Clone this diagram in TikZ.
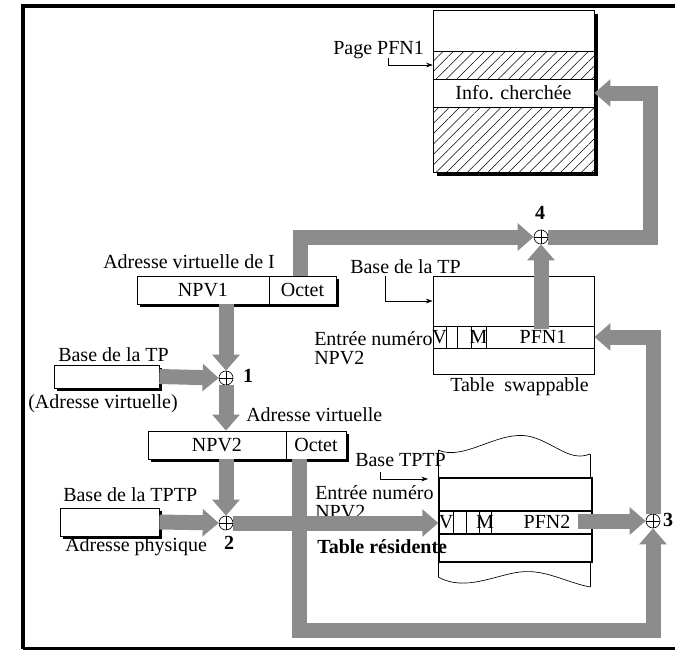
\documentclass[tikz,border=0pt]{standalone}
\usepackage{fontspec}
\setmainfont{Liberation Serif}
\usetikzlibrary{arrows.meta,fit,patterns.meta}
\definecolor{arrgray}{RGB}{140,140,140}
\begin{document}
\begin{tikzpicture}[x=0.75pt,y=-0.75pt,
  every node/.style={font=\fontsize{15}{17}\selectfont, inner sep=0pt},
  box/.style={draw=black, line width=0.6pt, fill=white, inner sep=0pt},
  hatch/.style={preaction={fill=white}, pattern={Lines[angle=45,distance=5.5pt,line width=0.4pt]}},
  garrow/.style={draw=arrgray, line width=11.25pt, line join=miter, -{Triangle[length=12pt,width=20pt]}},
  tarrow/.style={draw=black, line width=0.5pt, -{Stealth[length=5pt,width=3.5pt]}},
  oplus/.style={circle, draw=black, fill=white, line width=0.5pt, minimum size=10.5pt,
    path picture={\draw[line width=0.5pt] (path picture bounding box.north) -- (path picture bounding box.south)
      (path picture bounding box.west) -- (path picture bounding box.east);}},
  lbl/.style={font=\fontsize{15}{17}\selectfont\bfseries},
  cell/.style={draw=black, line width=0.5pt},
]
\useasboundingbox (0,0) rectangle (675,650);
% frame
\draw[line width=3pt] (23,649) -- (23,6) -- (700,6);
\draw[line width=3pt] (23,649) -- (700,649);

% ---------- page ----------
\fill (437,14) rectangle (598,176);
\node[fit={(433,10) (594,51)}, box] (ptop) {};
\node[fit={(433,51) (594,79)}, box, hatch] (hatch1) {};
\node[fit={(433,79) (594,107)}, box] (info) {};
\node[fit={(433,107) (594,172)}, box, hatch] (hatch2) {};
\node (infot) at (info.center) {Info. cherchée};
\node[anchor=west] (pagelbl) at (333,50) {Page PFN1};
\coordinate (pp) at (388,58);
\draw[tarrow] (pp) |- (hatch1.west);

% ---------- adresse virtuelle de I ----------
\node[anchor=west] (avi) at (103,262) {Adresse virtuelle de I};
\fill (140,279) rectangle (339,307);
\node[fit={(137,276) (269,304)}, box] (npv1) {};
\node[fit={(269,276) (336,304)}, box] (oct1) {};
\node (npv1t) at (npv1.center) {NPV1};
\node (oct1t) at (oct1.center) {Octet};

% ---------- base de la TP (left) ----------
\node[anchor=west] (btp) at (58,355) {Base de la TP};
\fill (57,368) rectangle (162,391);
\node[fit={(54,365) (159,388)}, box] (tpbox) {};
\node[anchor=west] (adv) at (28,404) {(Adresse virtuelle)};

% ---------- adresse virtuelle NPV2 ----------
\node[anchor=west] (av2) at (246,415) {Adresse virtuelle};
\fill (151,434) rectangle (349,462);
\node[fit={(148,431) (286,459)}, box] (npv2) {};
\node[fit={(286,431) (346,459)}, box] (oct2) {};
\node (npv2t) at (npv2.center) {NPV2};
\node (oct2t) at (oct2.center) {Octet};

% ---------- base de la TPTP ----------
\node[anchor=west] (btptp) at (63,495) {Base de la TPTP};
\fill (63,511) rectangle (162,539);
\node[fit={(60,508) (159,536)}, box] (tptpbox) {};
\node[anchor=west] (aphy) at (65,547) {Adresse physique};

% ---------- table swappable ----------
\node[anchor=west] (btp2) at (350,267) {Base de la TP};
\node[fit={(433,276) (594,326)}, box] (swtop) {};
\node[fit={(433,326) (594,348)}, box] (pfn1row) {};
\node[fit={(433,348) (594,374)}, box] (swbot) {};
\draw[cell] (446,326) -- (446,348) (457,326) -- (457,348) (471,326) -- (471,348) (486,326) -- (486,348);
\node (v1) at (439.5,337) {V};
\node (m1) at (478.5,337) {M};
\node (pfn1) at (543,337) {PFN1};
\node[anchor=west] (en1) at (314,339) {Entrée numéro};
\node[anchor=west] (np1) at (314,358) {NPV2};
\node[anchor=west] (tsw) at (450,387) {Table~ swappable};
\coordinate (bp) at (385,276);
\draw[tarrow] (bp) |- (swtop.west);

% ---------- table residente ----------
\draw[line width=0.5pt] (438,450) .. controls (465,462) and (500,428) .. (532,437)
  .. controls (556,444) and (570,462) .. (590,454);
\draw[line width=0.5pt] (438,450) -- (438,577);
\draw[line width=0.5pt] (590,454) -- (590,587);
\draw[line width=0.5pt] (438,577) .. controls (465,592) and (495,575) .. (520,572)
  .. controls (545,569) and (565,582) .. (590,587);
\node[fit={(439,478) (592,511)}, box, line width=1pt] (rtop) {};
\node[fit={(439,511) (592,534)}, box, line width=1pt] (pfn2row) {};
\node[fit={(439,534) (592,562)}, box, line width=1pt] (rbot) {};
\draw[cell] (453,511) -- (453,534) (466,511) -- (466,534) (479,511) -- (479,534) (491,511) -- (491,534);
\node (v2) at (446,522) {V};
\node (m2) at (485,522) {M};
\node (pfn2) at (547,522) {PFN2};
\node[anchor=west] (btptp2) at (355,460) {Base TPTP};
\coordinate (bt) at (380,472);
\coordinate (btend) at (428,479);
\draw[tarrow] (bt) |- (btend);
\node[anchor=west] (en2) at (315,493) {Entrée numéro};
\node[anchor=west] (np2) at (315,512) {NPV2};
\node[anchor=west, lbl] (tres) at (317,547) {Table résidente};

% ---------- adders ----------
\node[oplus] (o1) at (226,378) {};
\node[oplus] (o2) at (226,523) {};
\node[oplus] (o3) at (653,521) {};
\node[oplus] (o4) at (541,237) {};
\node[lbl] (l1) at (248,376) {1};
\node[lbl] (l2) at (229,543) {2};
\node[lbl] (l3) at (668,520) {3};
\node[lbl] (l4) at (540,213) {4};

% ---------- gray arrows ----------
\coordinate (npv1out) at (226,304);
\coordinate (oct1out) at (300,276);
\coordinate (oct2out) at (299,459);
\coordinate (c7) at (299,630);
\coordinate (pfn2out) at (578,521);
\coordinate (pfn1out) at (541,329);
\coordinate (c12) at (650,237);
\draw[garrow] (npv1out) -- (o1.north);
\draw[garrow] (tpbox.east) -- (o1.west);
\draw[garrow] (o1.south) -- (npv2.north -| o1);
\draw[garrow] (npv2.south -| o2) -- (o2.north);
\draw[garrow] (tptpbox.east) -- (o2.west);
\draw[garrow] (o2.east) -- (pfn2row.west |- o2);
\draw[garrow] (oct2out) -- (c7) -| (o3.south);
\draw[garrow] (pfn2out) -- (o3.west);
\draw[garrow] (o3.north) |- (pfn1row.east);
\draw[garrow] (pfn1out) -- (o4.south);
\draw[garrow] (oct1out) |- (o4.west);
\draw[garrow] (o4.east) -- (c12) |- (info.east);
\end{tikzpicture}
\end{document}
